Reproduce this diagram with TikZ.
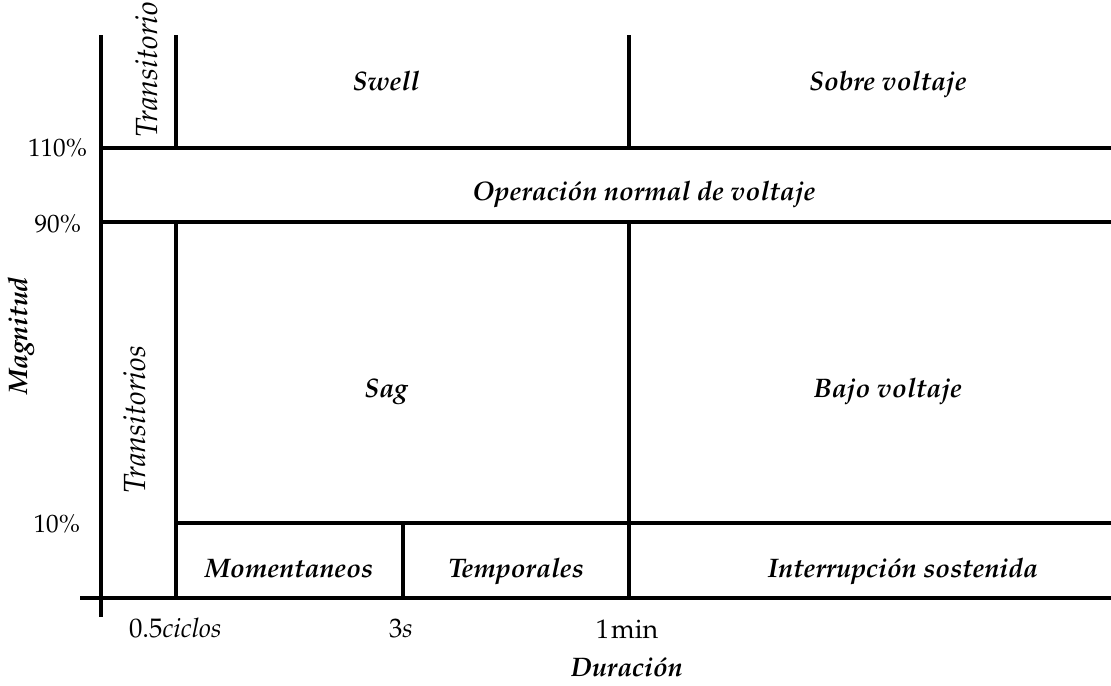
\documentclass[tikz,border=0pt]{standalone}
\usepackage[T1]{fontenc}
\usepackage{mathpazo}

\begin{document}
\begin{tikzpicture}[x=0.5pt, y=-0.5pt, line width=2pt,
    node font=\fontsize{13.4}{16}\selectfont,
    every node/.style={inner sep=0pt},
    region/.style={font=\bfseries\itshape, anchor=base},
    pct/.style={anchor=base east, font=\fontsize{12.6}{15}\selectfont},
    sidebox/.style={rotate=90, anchor=base, font=\fontsize{15.3}{18}\selectfont\itshape}]
\useasboundingbox (0,0) rectangle (1111,685);
% axes
\draw (101,35) -- (101,617);
\draw (80,598) -- (1111,598);
% limits of magnitude
\foreach \y in {148, 222} {%
    \draw (101,\y) -- (1111,\y);
}
\draw (176,523) -- (1111,523);
% limits of duration
\foreach \x in {176, 629} {%
    \draw (\x,35) -- (\x,148);
    \draw (\x,222) -- (\x,598);
}
\draw (403,523) -- (403,598);
% regions
\node [region] (swell) at (386,90) {Swell};
\node [region] (sobre) at (888,90) {Sobre voltaje};
\node [region] (normal) at (644,200) {Operaci\'on normal de voltaje};
\node [region] (sag) at (386,397) {Sag};
\node [region] (bajo) at (888,397) {Bajo voltaje};
\node [region] (momen) at (289,577) {Momentaneos};
\node [region] (temp) at (516,577) {Temporales};
\node [region] (inter) at (903,577) {Interrupci\'on sostenida};
\node [sidebox] (trans) at (157,70) {Transitorio};
\node [sidebox] (transs) at (145,420) {Transitorios};
% axis labels
\node [region, rotate=90] (mag) at (27,336) {Magnitud};
\node [region] (dur) at (627,676) {Duraci\'on};
\node [pct] (p110) at (89,156) {110\%};
\node [pct] (p90) at (83,232) {90\%};
\node [pct] (p10) at (82,532) {10\%};
\node [anchor=base west] (t05) at (127,637) {0.5\textit{ciclos}};
\node [anchor=base] (t3) at (401,637) {3\textit{s}};
\node [anchor=base] (t1) at (627,638) {1\kern1pt min};
\end{tikzpicture}
\end{document}
